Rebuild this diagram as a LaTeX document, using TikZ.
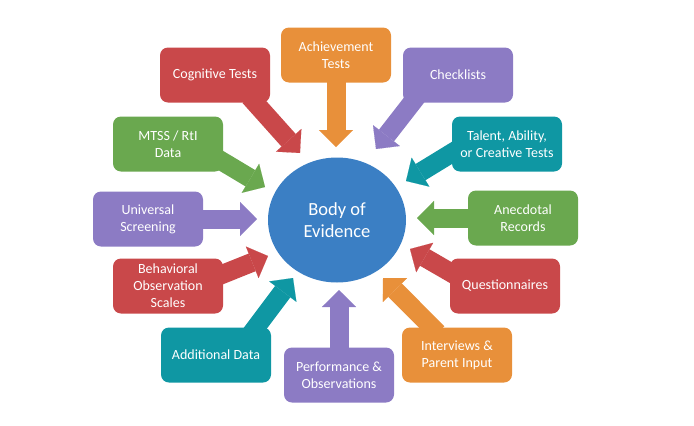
\documentclass[tikz,border=0pt]{standalone}
\usepackage{fontspec}
\setmainfont{Carlito}
\usepackage{xcolor}
\usepackage{tikz}
\usetikzlibrary{shapes.geometric, arrows.meta, positioning, calc}

\definecolor{evblue}{HTML}{3B7FC4}
\definecolor{evred}{HTML}{C9484A}
\definecolor{evorange}{HTML}{E8903A}
\definecolor{evpurple}{HTML}{8C7BC4}
\definecolor{evgreen}{HTML}{6AA84F}
\definecolor{evteal}{HTML}{0F97A3}

\pgfdeclarelayer{background}
\pgfsetlayers{background,main}

\begin{document}
\begin{tikzpicture}[
  x=1pt, y=-1pt,
  source/.style={rectangle, rounded corners=8pt, minimum width=110pt, minimum height=55pt, inner sep=2pt, align=center, text=white, font=\fontsize{14}{17}\selectfont},
  hub/.style={ellipse, fill=evblue, minimum width=138pt, minimum height=125pt, align=center, text=white, font=\fontsize{18.5}{22}\selectfont},
  feed/.style={line width=19pt, shorten <=-8pt, -{Triangle[length=17pt, width=34pt, line width'=0.1pt]}}
]
  \useasboundingbox (0,0) rectangle (694,426);

  \node[hub] (body) at (337,220) {Body of\\Evidence};

  \node[source, fill=evorange] (ach) at (336,55)  {Achievement\\Tests};
  \node[source, fill=evred]    (cog) at (215,75)  {Cognitive Tests};
  \node[source, fill=evpurple] (chk) at (458,75)  {Checklists};
  \node[source, fill=evgreen]  (mtss) at (168,144) {MTSS / RtI\\Data};
  \node[source, fill=evteal]   (tal) at (507,144) {Talent, Ability,\\or Creative Tests};
  \node[source, fill=evpurple] (uni) at (148,219) {Universal\\Screening};
  \node[source, fill=evgreen]  (ane) at (523,218) {Anecdotal\\Records};
  \node[source, fill=evred]    (beh) at (168,286) {Behavioral\\Observation\\Scales};
  \node[source, fill=evred]    (que) at (505,286) {Questionnaires};
  \node[source, fill=evteal]   (add) at (216,355) {Additional Data};
  \node[source, fill=evorange] (int) at (457,355) {Interviews \&\\Parent Input};
  \node[source, fill=evpurple] (per) at (339,375) {Performance \&\\Observations};

  % arrow tips near the hub
  \coordinate (achTip) at (336,147);
  \coordinate (cogTip) at (300,153);
  \coordinate (chkTip) at (376,149);
  \coordinate (mtssTip) at (265,187);
  \coordinate (talTip) at (406,181);
  \coordinate (uniTip) at (257,219);
  \coordinate (aneTip) at (417,218);
  \coordinate (behTip) at (268,256);
  \coordinate (queTip) at (410,249);
  \coordinate (addTip) at (293,278);
  \coordinate (intTip) at (383,278);
  \coordinate (perTip) at (339,290);

  \begin{pgfonlayer}{background}
    \draw[feed, evorange] (ach.south) -- (achTip);
    \draw[feed, evred] ([xshift=40pt]cog.south) -- (cogTip);
    \draw[feed, evpurple] ([xshift=-46pt]chk.south) -- (chkTip);
    \draw[feed, evgreen] ([yshift=-18pt]mtss.east) -- (mtssTip);
    \draw[feed, evteal] ([yshift=-9pt]tal.west) -- (talTip);
    \draw[feed, evpurple] (uni.east) -- (uniTip);
    \draw[feed, evgreen] (ane.west) -- (aneTip);
    \draw[feed, evred] ([yshift=12pt]beh.east) -- (behTip);
    \draw[feed, evred] ([yshift=14pt]que.west) -- (queTip);
    \draw[feed, evteal] ([xshift=40pt]add.north) -- (addTip);
    \draw[feed, evorange] ([xshift=-25pt]int.north) -- (intTip);
    \draw[feed, evpurple] (per.north) -- (perTip);
  \end{pgfonlayer}
\end{tikzpicture}
\end{document}
